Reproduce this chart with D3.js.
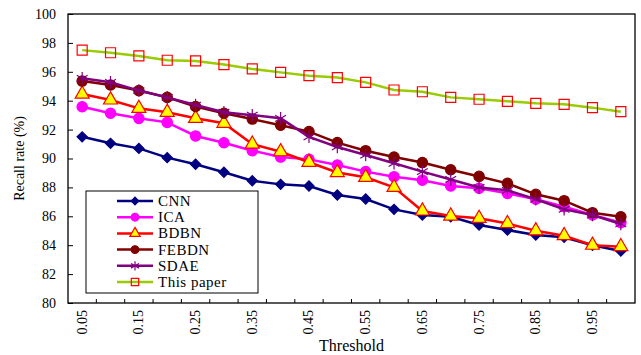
<!DOCTYPE html>
<html>
<head>
<meta charset="utf-8">
<script src="https://cdn.jsdelivr.net/npm/d3@7"></script>
<style>
body { margin: 0; background: #fff; }
text { font-family: "Liberation Serif", "Times New Roman", serif; fill: #000; }
</style>
</head>
<body>
<div class="graphic"></div>
<script>
var width = 641;
var height = 355;

// data
var thresholds = [0.05,0.1,0.15,0.2,0.25,0.3,0.35,0.4,0.45,0.5,0.55,0.6,0.65,0.7,0.75,0.8,0.85,0.9,0.95,1.0];
var tickLabels = ["0.05","0.15","0.25","0.35","0.45","0.55","0.65","0.75","0.85","0.95"];
var seriesNames = ["CNN","ICA","BDBN","FEBDN","SDAE","This paper"];
var cnn   = [91.5,91.05,90.7,90.06,89.6,89.05,88.46,88.21,88.1,87.47,87.2,86.48,86.09,85.97,85.4,85.05,84.7,84.55,84.0,83.6];
var ica   = [93.58,93.13,92.78,92.5,91.56,91.09,90.54,90.1,89.94,89.55,89.09,88.74,88.5,88.1,87.94,87.59,87.18,86.66,86.09,85.56];
var bdbn  = [94.46,94.05,93.47,93.2,92.78,92.44,91.0,90.47,89.74,89.03,88.7,88.0,86.37,86.02,85.86,85.5,85.0,84.66,84.0,83.9];
var febdn = [95.36,95.09,94.7,94.23,93.6,93.13,92.73,92.3,91.86,91.1,90.54,90.1,89.72,89.22,88.76,88.28,87.52,87.08,86.25,85.97];
var sdae  = [95.55,95.27,94.7,94.23,93.7,93.2,93.0,92.78,91.5,90.8,90.24,89.67,89.09,88.55,88.0,87.8,87.18,86.48,86.09,85.47];
var ours  = [97.5,97.32,97.1,96.8,96.75,96.5,96.2,95.96,95.73,95.6,95.27,94.74,94.62,94.23,94.1,93.96,93.82,93.75,93.52,93.24];
var yTicks = [80,82,84,86,88,90,92,94,96,98,100];

var seriesList = [cnn, ica, bdbn, febdn, sdae, ours];
var styles = [
	{line: "#000080", marker: "diamond", fill: "#000080", stroke: "#000080"},
	{line: "#ff00ff", marker: "circle", fill: "#ff00ff", stroke: "#ff00ff"},
	{line: "#ff0000", marker: "triangle", fill: "#ffff00", stroke: "#ff0000"},
	{line: "#800000", marker: "circle", fill: "#800000", stroke: "#800000"},
	{line: "#800080", marker: "star", fill: "none", stroke: "#800080"},
	{line: "#99cc00", marker: "square", fill: "none", stroke: "#ff0000"}
];

var margin = {left: 68, right: 6, top: 14, bottom: 52};
var plotW = width - margin.left - margin.right;
var plotH = height - margin.top - margin.bottom;

var svg = d3.select("div.graphic").append("svg")
	.attr("width", width)
	.attr("height", height);

var x = d3.scaleBand()
	.domain(thresholds)
	.range([margin.left, margin.left + plotW]);
var y = d3.scaleLinear()
	.domain([80, 100])
	.range([margin.top + plotH, margin.top]);

function cx(d, i){ return x(thresholds[i]) + x.bandwidth() / 2; }

// y axis, ticks point into the plot
var yAxis = svg.append("g")
	.attr("transform", "translate(" + margin.left + ",0)")
	.call(d3.axisLeft(y).tickValues(yTicks).tickSize(-5).tickPadding(12).tickFormat(d3.format("d")));
yAxis.select(".domain").remove();
yAxis.selectAll("line").attr("stroke", "#000");
yAxis.selectAll("text").style("font-family", "Liberation Serif").style("font-size", "14px");

// x axis ticks at category boundaries
var xb = svg.append("g");
xb.selectAll("line")
	.data(thresholds.slice(1))
	.enter()
	.append("line")
	.attr("x1", function(d){ return x(d); })
	.attr("x2", function(d){ return x(d); })
	.attr("y1", margin.top + plotH)
	.attr("y2", margin.top + plotH - 4)
	.attr("stroke", "#000");
xb.selectAll("text")
	.data(tickLabels)
	.enter()
	.append("text")
	.attr("transform", function(d){
		var px = x(+d) + x.bandwidth() / 2 + 4.5;
		return "translate(" + px + "," + (margin.top + plotH + 7) + ") rotate(-90)";
	})
	.attr("text-anchor", "end")
	.style("font-size", "14px")
	.text(function(d){ return d; });

// frame
svg.append("rect")
	.attr("x", margin.left)
	.attr("y", margin.top)
	.attr("width", plotW)
	.attr("height", plotH)
	.attr("fill", "none")
	.attr("stroke", "#000")
	.attr("stroke-width", 1.3);

// axis titles
svg.append("text")
	.attr("transform", "translate(24," + (margin.top + plotH / 2) + ") rotate(-90)")
	.attr("text-anchor", "middle")
	.style("font-size", "14px")
	.text("Recall rate (%)");
svg.append("text")
	.attr("x", margin.left + plotW / 2)
	.attr("y", 351)
	.attr("text-anchor", "middle")
	.style("font-size", "16px")
	.text("Threshold");

function symbolPath(type, k){
	if (type == "diamond") return d3.symbol().type(d3.symbolSquare).size(52 * k)();
	if (type == "circle") return d3.symbol().type(d3.symbolCircle).size(85 * k)();
	if (type == "triangle") return d3.symbol().type(d3.symbolTriangle).size(85 * k)();
	if (type == "square") return d3.symbol().type(d3.symbolSquare).size(100 * k)();
	return d3.symbol().type(d3.symbolAsterisk).size(110 * k)();
}

function drawMarker(g, st, px, py, k){
	g.append("path")
		.attr("d", symbolPath(st.marker, k))
		.attr("transform", "translate(" + px + "," + py + ")" + (st.marker == "diamond" ? " rotate(45)" : ""))
		.attr("fill", st.fill)
		.attr("stroke", st.stroke)
		.attr("stroke-width", 1.2);
}

var line = d3.line()
	.x(cx)
	.y(function(d){ return y(d); });

var graph = svg.append("g");
seriesList.forEach(function(values, si){
	var st = styles[si];
	var g = graph.append("g");
	g.append("path")
		.datum(values)
		.attr("d", line)
		.attr("fill", "none")
		.attr("stroke", st.line)
		.attr("stroke-width", 2.5);
	values.forEach(function(v, i){
		drawMarker(g, st, cx(v, i), y(v), 1);
	});
});

// legend
var legend = svg.append("g");
legend.append("rect")
	.attr("x", 86)
	.attr("y", 191)
	.attr("width", 172)
	.attr("height", 102)
	.attr("fill", "#fff")
	.attr("stroke", "#000")
	.attr("stroke-width", 1);
seriesNames.forEach(function(name, i){
	var st = styles[i];
	var ly = 201 + i * 16.2;
	legend.append("line")
		.attr("x1", 117).attr("x2", 153)
		.attr("y1", ly).attr("y2", ly)
		.attr("stroke", st.line)
		.attr("stroke-width", 2.5);
	drawMarker(legend, st, 135, ly, 0.55);
	legend.append("text")
		.attr("x", 158)
		.attr("y", ly + 5)
		.style("font-size", "15px")
		.style("letter-spacing", "0.5px")
		.text(name);
});
</script>
</body>
</html>
